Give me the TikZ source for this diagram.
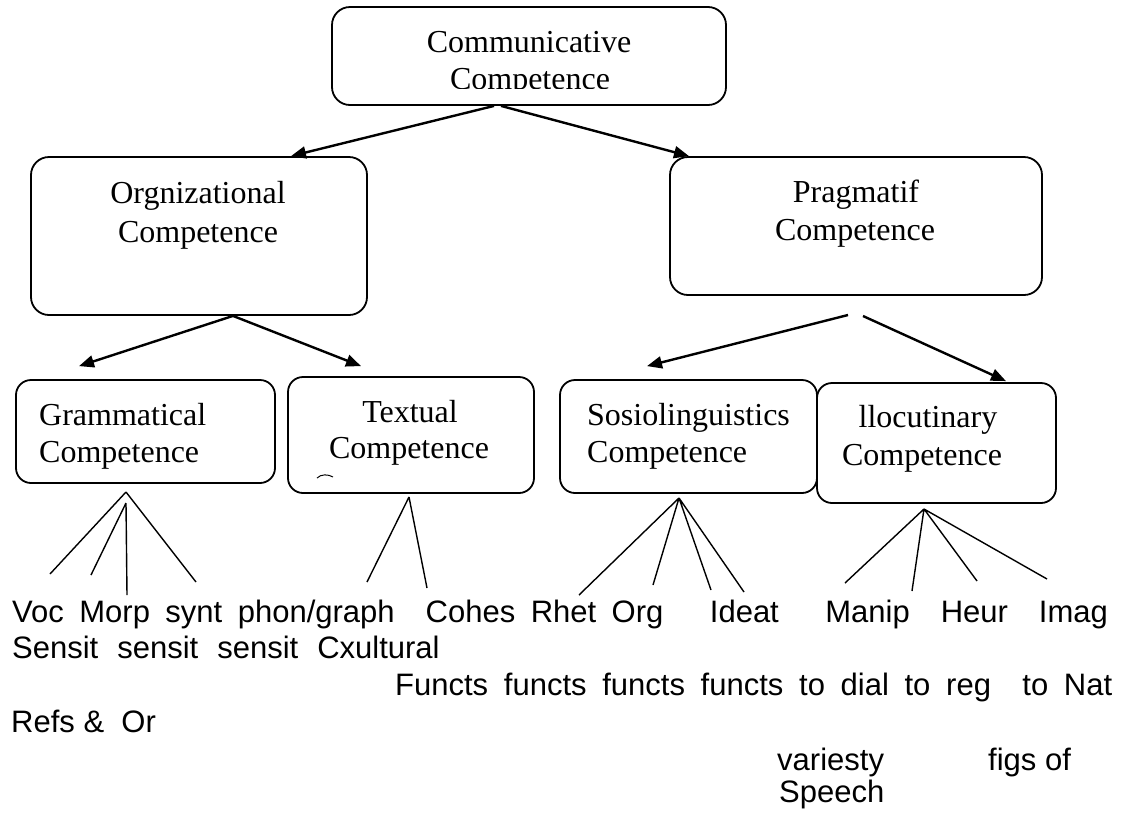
\documentclass[tikz,border=0pt]{standalone}
\usepackage{fontspec}
\setmainfont{Liberation Serif}
\setsansfont{Liberation Sans}
\usetikzlibrary{arrows.meta, calc}
\tikzset{box/.style={draw=black, line width=1.8pt, rounded corners=18pt, inner sep=0pt},
  boxtext/.style={inner sep=0pt, font=\fontsize{32}{37}\selectfont},
  rowtext/.style={inner sep=0pt, anchor=base west, font=\sffamily\fontsize{31}{37}\selectfont},
  arr/.style={line width=2.4pt, -{Triangle[length=15pt, width=12pt]}},
  fan/.style={line width=1.4pt}}

\begin{document}
\begin{tikzpicture}[x=1pt, y=-1pt]
\useasboundingbox (0,0) rectangle (1122,812);

\node[box, minimum width=394pt, minimum height=98pt] (comm) at (529,56) {};
\node[box, minimum width=336pt, minimum height=158pt] (org) at (199,236) {};
\node[box, minimum width=372pt, minimum height=138pt] (prag) at (856,226) {};
\node[box, rounded corners=15pt, minimum width=259pt, minimum height=103pt] (gram) at (145.5,431.5) {};
\node[box, rounded corners=15pt, minimum width=246pt, minimum height=116pt] (text) at (411,435) {};
\node[box, rounded corners=15pt, minimum width=257pt, minimum height=113pt] (socio) at (688.5,436.5) {};
\node[box, rounded corners=15pt, minimum width=239pt, minimum height=120pt] (illoc) at (936.5,443) {};

\begin{scope}
  \clip (332,7) rectangle (726,88);
  \node[boxtext, anchor=base] (commA) at (529,52) {Communicative};
  \node[boxtext, anchor=base] (commB) at (530,89) {Competence};
\end{scope}
\node[boxtext, anchor=base] (orgA) at (198,203) {Orgnizational};
\node[boxtext, anchor=base] (orgB) at (198,242) {Competence};
\node[boxtext, anchor=base] (pragA) at (856,202) {Pragmatif};
\node[boxtext, anchor=base] (pragB) at (855,240) {Competence};
\node[boxtext, anchor=base west] (gramA) at (39,425) {Grammatical};
\node[boxtext, anchor=base west] (gramB) at (39,462) {Competence};
\node[boxtext, anchor=base] (textA) at (410,422) {Textual};
\node[boxtext, anchor=base] (textB) at (409,458) {Competence};
\node[boxtext, anchor=base west] (socioA) at (587,425) {Sosiolinguistics};
\node[boxtext, anchor=base west] (socioB) at (587,462) {Competence};
\node[boxtext, anchor=base] (illocA) at (928,427) {llocutinary};
\node[boxtext, anchor=base] (illocB) at (922,465) {Competence};
\draw[line width=1pt] (317,478) .. controls (321,474) and (328,474) .. (333,477);

\draw[arr] ($(comm.south)+(-35,0)$) -- ($(org.north)+(92,0)$);
\draw[arr] ($(comm.south)+(-28,0)$) -- ($(prag.north)+(-167,0)$);
\draw[arr] ($(org.south)+(34,0)$) -- ($(gram.north)+(-66.5,-13)$);
\draw[arr] ($(org.south)+(34,0)$) -- ($(text.north)+(-50,-10)$);
\coordinate (pragL) at (848,315);
\coordinate (pragR) at (863,316);
\draw[arr] (pragL) -- ($(socio.north)+(-41.5,-13)$);
\draw[arr] (pragR) -- ($(illoc.north)+(69.5,-1)$);

\coordinate (gA) at (126,492);
\coordinate (gB) at (126,503);
\coordinate (g1) at (50,574);
\coordinate (g2) at (91,575);
\coordinate (g3) at (127,595);
\coordinate (g4) at (196,582);
\draw[fan] (gA) -- (g1) (gB) -- (g2) (gB) -- (g3) (gA) -- (g4);

\coordinate (tA) at (409,497);
\coordinate (t1) at (367,582);
\coordinate (t2) at (427,588);
\draw[fan] (tA) -- (t1) (tA) -- (t2);

\coordinate (sA) at (679,498);
\coordinate (s1) at (579,595);
\coordinate (s2) at (653,585);
\coordinate (s3) at (711,590);
\coordinate (s4) at (744,592);
\draw[fan] (sA) -- (s1) (sA) -- (s2) (sA) -- (s3) (sA) -- (s4);

\coordinate (iA) at (924,509);
\coordinate (i1) at (845,583);
\coordinate (i2) at (912,591);
\coordinate (i3) at (977,581);
\coordinate (i4) at (1047,579);
\draw[fan] (iA) -- (i1) (iA) -- (i2) (iA) -- (i3) (iA) -- (i4);

\node[rowtext] (row1) at (12,622) {\spaceskip=15.5pt\relax Voc Morp synt phon/graph\ \ Cohes Rhet Org\ \ \ Ideat\ \ \ Manip\ \ Heur\ \ Imag};
\node[rowtext] (row2) at (12,658) {\spaceskip=19pt\relax Sensit sensit sensit Cxultural};
\node[rowtext] (row3) at (395,695) {\spaceskip=15.7pt\relax Functs functs functs functs to dial to reg\ \ to Nat};
\node[rowtext] (row4) at (11,732) {Refs \&\ \ Or};
\node[rowtext] (row5a) at (777,770) {variesty};
\node[rowtext] (row5b) at (988,770) {figs of};
\node[rowtext] (row6) at (779,802) {Speech};
\end{tikzpicture}
\end{document}
